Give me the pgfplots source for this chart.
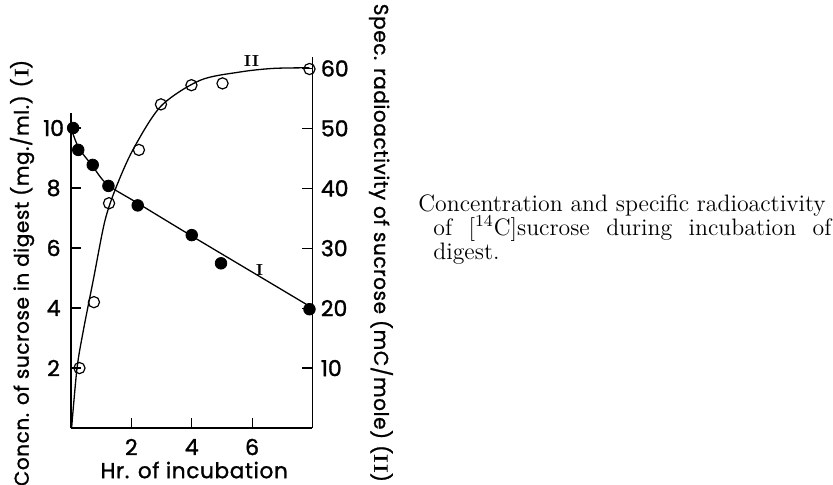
\documentclass[border=0pt]{standalone}
\usepackage{pgfplots}
\pgfplotsset{compat=1.18}
\usepackage{fontspec}
\newfontfamily\labfont[LetterSpace=3,FakeBold=1.2]{Poppins}
\newfontfamily\tickfont[FakeBold=1.4]{Poppins}
\begin{document}
\begin{tikzpicture}[x=1pt,y=1pt]
\useasboundingbox (-35.5,-28) rectangle (381,214);
\pgfplotsset{
  common/.style={
    at={(0,0)}, anchor=south west, scale only axis,
    width=120.75pt, xmin=0, xmax=8, ymin=0,
    axis line style={line width=0.65pt},
    tick align=inside, major tick length=5pt,
    tick style={line width=0.6pt, black},
    /pgf/number format/assume math mode=true,
    ticklabel style={font=\tickfont\fontsize{11}{12}\selectfont},
    label style={font=\labfont\fontsize{10}{11}\selectfont},
    clip=false,
  }
}
\begin{axis}[common,
  height=157.5pt, ymax=10.5,
  axis x line*=bottom, axis y line*=left,
  xtick={2,4,6}, ytick={2,4,6,8,10},
  xticklabel style={anchor=center, yshift=-9.5pt},
  yticklabel style={anchor=center, xshift=-8.7pt},
  xlabel={Hr. of incubation},
  xlabel style={at={(axis description cs:0.51,0)}, anchor=center, yshift=-21pt, font=\labfont\fontsize{10.8}{11}\selectfont},
  ylabel={Concn. of sucrose in digest (mg./ml.) (\textrm{\textbf{I}})},
  ylabel style={at={(axis description cs:-0.2029,0.492)}, anchor=center},
]
\addplot[smooth, line width=0.65pt] coordinates {
(0,10.0)(0.25,9.35)(0.7,8.75)(1.2,8.12)(2.2,7.5)(4,6.4)(6,5.2)(7.95,4.03)};
\addplot[only marks, mark=*, mark size=2.9pt, black] coordinates {
(0.07,10.0)(0.24,9.27)(0.72,8.77)(1.24,8.07)(2.21,7.42)(4.0,6.43)(4.97,5.49)(7.9,3.96)};
\node[font=\rmfamily\bfseries\fontsize{8}{8}\selectfont] at (axis cs:6.25,5.27) {I};
\end{axis}
\begin{axis}[common,
  height=185.5pt, ymax=61.9,
  axis x line=none, axis y line*=right,
  ytick={10,20,30,40,50,60},
  yticklabel style={anchor=west, inner sep=0pt, xshift=4pt},
  ylabel={Spec. radioactivity of sucrose (mC/mole) (\textrm{\textbf{II}})},
  ylabel style={at={(axis description cs:1.2836,0.499)}, anchor=center, rotate=180},
]
\addplot[smooth, line width=0.65pt] coordinates {
(0.02,0)(0.2,10)(0.41,16.3)(0.75,25)(1.12,34.5)(1.49,40.1)(2.06,46.5)(2.98,53.7)(4.27,58)(5.6,59.4)(6.7,60)(7.9,60.1)};
\addplot[only marks, mark=o, mark size=2.8pt, line width=0.6pt, black, fill=white] coordinates {
(0.28,10)(0.76,21)(1.26,37.5)(2.25,46.4)(2.98,54)(3.99,57.2)(5.02,57.5)(7.9,59.9)};
\node[font=\rmfamily\bfseries\fontsize{8}{8}\selectfont] at (axis cs:5.98,61.2) {II};
\end{axis}
\node[anchor=base west, inner sep=0pt, font=\rmfamily\fontsize{11.9}{12}\selectfont] at (173.5,108.5)
{\vtop{\baselineskip=12pt\lineskiplimit=-20pt
\hbox{Concentration and specific radioactivity}
\hbox{\hspace*{7.5pt}\makebox[199pt][s]{of [\textsuperscript{14}C]sucrose during incubation of}}
\hbox{\hspace*{7.5pt}digest.}}};
\end{tikzpicture}
\end{document}
